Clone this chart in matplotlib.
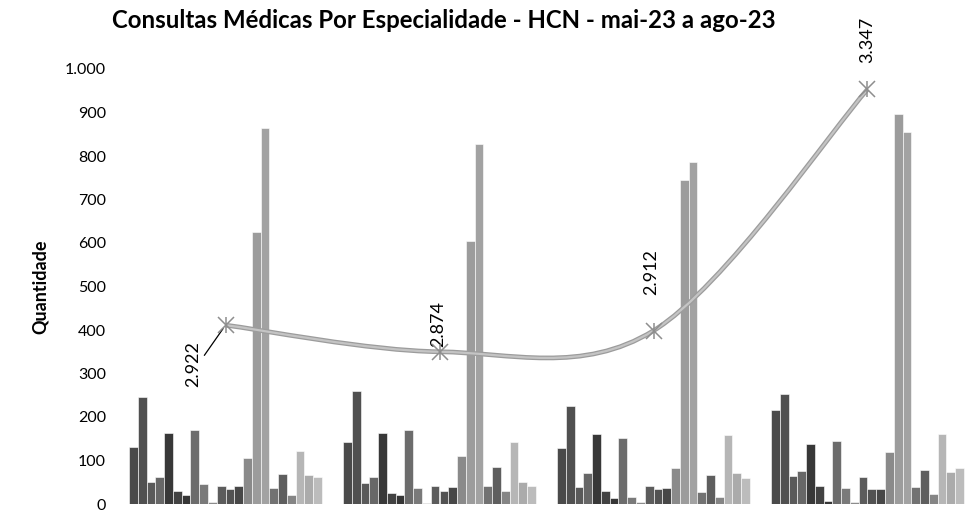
import numpy as np
import matplotlib
matplotlib.use("Agg")
import matplotlib.pyplot as plt
from matplotlib.path import Path
from matplotlib.patches import PathPatch
from matplotlib.ticker import FuncFormatter

# ---------------- data ----------------
months = ["mai-23", "jun-23", "jul-23", "ago-23"]
specialties = [f"Especialidade {i}" for i in range(1, 23)]

mai = [130, 245, 51, 63, 163, 29, 21, 170, 45, 4, 41, 34, 42, 105, 625, 865, 36, 70, 21, 122, 67, 61]
jun = [143, 260, 49, 61, 164, 25, 20, 170, 36, 2, 42, 31, 38, 111, 604, 828, 42, 86, 29, 143, 50, 42]
jul = [128, 225, 38, 71, 162, 29, 13, 152, 17, 5, 42, 34, 37, 83, 745, 787, 28, 66, 15, 159, 71, 59]
ago = [216, 252, 64, 77, 139, 41, 7, 144, 37, 4, 61, 34, 34, 120, 896, 856, 40, 78, 22, 162, 73, 82]

totals = [2922, 2874, 2912, 3347]
total_labels = ["2.922", "2.874", "2.912", "3.347"]

y_ticks = [0, 100, 200, 300, 400, 500, 600, 700, 800, 900, 1000]

# ---------------- style ----------------
bar_grays = ["#4a4a4a", "#505050", "#5a5a5a", "#676767", "#383838", "#424242",
             "#363636", "#6c6c6c", "#7a7a7a", "#8c8c8c", "#5c5c5c", "#525252",
             "#474747", "#8a8a8a", "#9c9c9c", "#a2a2a2", "#727272", "#5e5e5e",
             "#858585", "#b6b6b6", "#ababab", "#bcbcbc"]

plt.rcParams['font.family'] = ['Lato', 'DejaVu Sans']

W, H = 965, 513
fig = plt.figure(figsize=(W / 100, H / 100), dpi=100)

left_px, right_px = 118.5, 974.5
bottom_px, top_px = 504, 69
ax = fig.add_axes([left_px / W, (H - bottom_px) / H,
                   (right_px - left_px) / W, (bottom_px - top_px) / H])

data = np.array([mai, jun, jul, ago])  # months x specialties
n_spec = data.shape[1]
group_w = 0.9
bw = group_w / n_spec
x = np.arange(len(months))
for j in range(n_spec):
    offs = -group_w / 2 + bw * (j + 0.5)
    ax.bar(x + offs, data[:, j], width=bw, color=bar_grays[j],
           edgecolor="white", linewidth=0.4, label=specialties[j], zorder=2)

ax.set_xlim(-0.5, len(months) - 0.5)
ax.set_ylim(0, 1000)
ax.set_yticks(y_ticks)
ax.yaxis.set_major_formatter(FuncFormatter(lambda v, p: f"{int(v):,}".replace(",", ".")))
ax.tick_params(axis="y", length=0, pad=9, labelsize=11.5)
ax.set_xticks([])
for s in ax.spines.values():
    s.set_visible(False)

# secondary axis for totals line
ax2 = ax.twinx()
ax2.set_ylim(2599.5, 3383.8)
ax2.set_axis_off()
ax2.set_xlim(ax.get_xlim())

# smooth (Catmull-Rom -> Bezier) curve through the totals
px = x.astype(float)
py = np.array(totals, dtype=float)
P = np.column_stack([px, py])
verts = [P[0]]
codes = [Path.MOVETO]
n = len(P)
for i in range(n - 1):
    p0 = P[i - 1] if i > 0 else P[i]
    p1 = P[i]
    p2 = P[i + 1]
    p3 = P[i + 2] if i + 2 < n else P[i + 1]
    c1 = p1 + (p2 - p0) / 6.0
    c2 = p2 - (p3 - p1) / 6.0
    verts += [c1, c2, p2]
    codes += [Path.CURVE4] * 3
path = Path(verts, codes)
ax2.add_patch(PathPatch(path, fill=False, edgecolor="#9c9c9c", linewidth=3.4, zorder=3))
ax2.add_patch(PathPatch(path, fill=False, edgecolor="#c4c4c4", linewidth=1.6, zorder=4))

ax2.plot(px, py, linestyle="none", marker="x", markersize=11, markeredgewidth=1.1,
         color="#8e8e8e", zorder=5)
ax2.plot(px, py, linestyle="none", marker="|", markersize=11, markeredgewidth=1.1,
         color="#8e8e8e", zorder=5)

# labels (offsets in points)
label_offsets = [(-23, -28), (-1, 20), (-2, 42), (0, 36)]
for i, (lab, off) in enumerate(zip(total_labels, label_offsets)):
    if i == 0:
        ax2.annotate(lab, (px[i], py[i]), xytext=off, textcoords="offset points",
                     rotation=90, ha="center", va="center", fontsize=13,
                     arrowprops=dict(arrowstyle="-", color="black", lw=0.9,
                                     shrinkA=0, shrinkB=3,
                                     connectionstyle="angle,angleA=0,angleB=55,rad=0"))
    else:
        ax2.annotate(lab, (px[i], py[i]), xytext=off, textcoords="offset points",
                     rotation=90, ha="center", va="center", fontsize=13)

fig.text(444 / W, 1 - 20 / H, "Consultas Médicas Por Especialidade - HCN - mai-23 a ago-23",
         ha="center", va="center", fontsize=17.3, fontweight="bold")
fig.text(40 / W, 1 - 287 / H, "Quantidade", rotation=90, ha="center", va="center",
         fontsize=13, fontweight="bold")

fig.savefig("out.png", dpi=100)
